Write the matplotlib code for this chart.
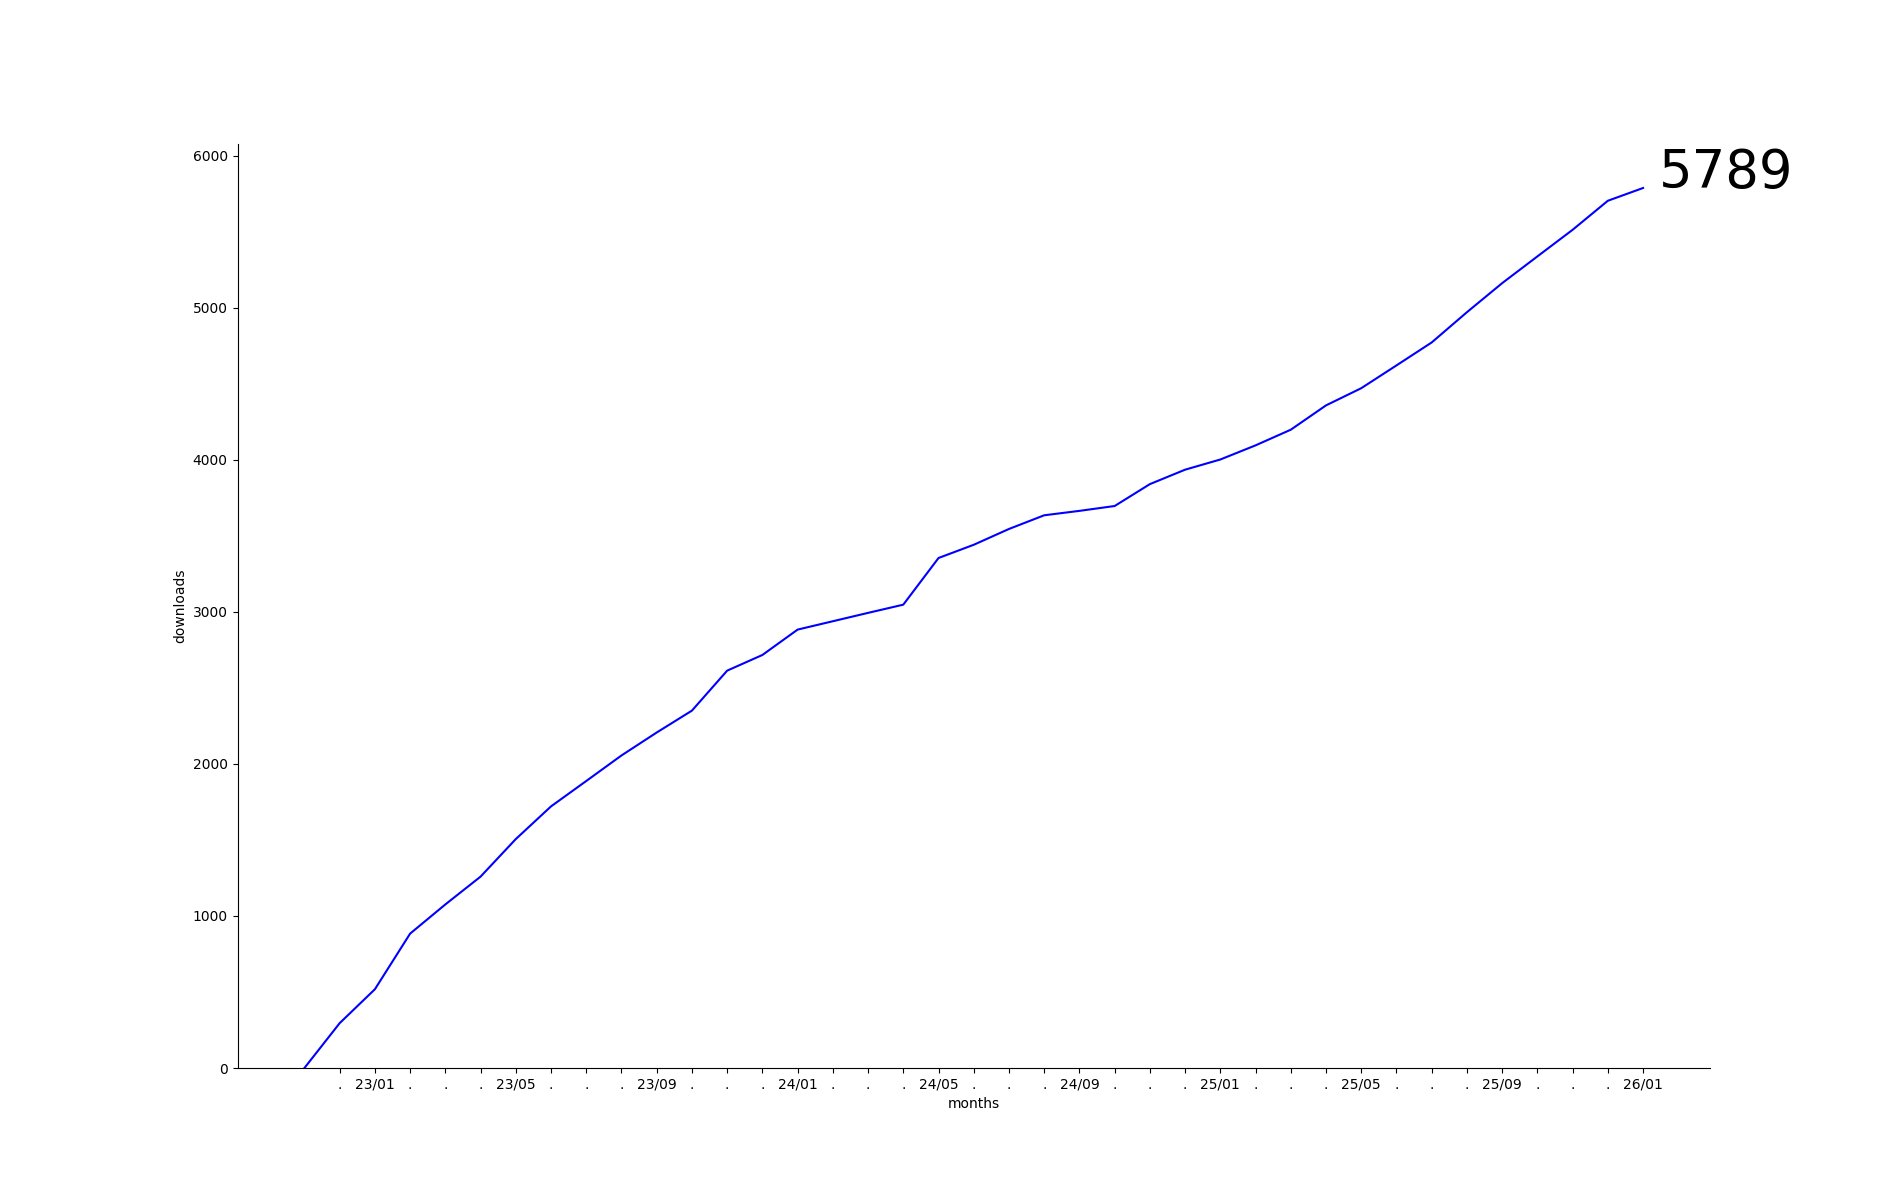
import matplotlib
matplotlib.use("Agg")
import matplotlib.pyplot as plt

# months from 22/11 to 26/01
months = [
    "22/11", "22/12",
    "23/01", "23/02", "23/03", "23/04", "23/05", "23/06",
    "23/07", "23/08", "23/09", "23/10", "23/11", "23/12",
    "24/01", "24/02", "24/03", "24/04", "24/05", "24/06",
    "24/07", "24/08", "24/09", "24/10", "24/11", "24/12",
    "25/01", "25/02", "25/03", "25/04", "25/05", "25/06",
    "25/07", "25/08", "25/09", "25/10", "25/11", "25/12",
    "26/01",
]

# cumulative downloads per month
downloads = [
    0, 295, 518, 884, 1076, 1259, 1506, 1721, 1888, 2056,
    2207, 2351, 2614, 2717, 2884, 2939, 2994, 3048, 3355, 3442,
    3546, 3636, 3665, 3697, 3841, 3936, 4003, 4096, 4199, 4359,
    4472, 4622, 4773, 4972, 5163, 5339, 5514, 5705, 5789,
]

fig, ax = plt.subplots(figsize=(19, 12), dpi=100)
x = list(range(len(months)))
ax.plot(x, downloads, color="blue")
ax.set_ylim(bottom=0)

# every month gets a tick, only every 4th month a label
ticks = x[1:]
labels = [m if int(m[3:]) % 4 == 1 else "." for m in months[1:]]
ax.set_xticks(ticks)
ax.set_xticklabels(labels)

ax.set_xlabel("months")
ax.set_ylabel("downloads")
ax.spines["top"].set_visible(False)
ax.spines["right"].set_visible(False)

ax.text(x[-1] + 0.45, downloads[-1], str(downloads[-1]), fontsize=38)

fig.savefig("out.png")
